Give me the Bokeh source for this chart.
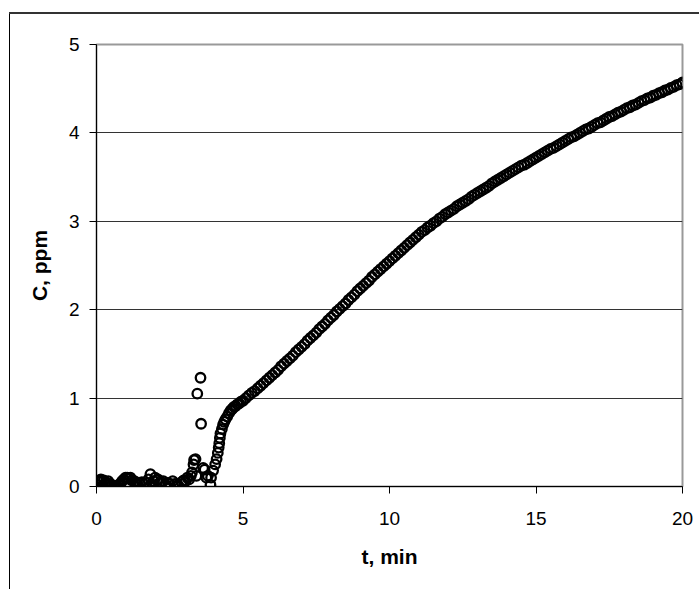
from bokeh.plotting import figure
from bokeh.models import Range1d, FixedTicker
from bokeh.embed import file_html
from bokeh.resources import INLINE

# time (min) and concentration (ppm)
t_early = [0.05, 0.10, 0.15, 0.19, 0.25, 0.31, 0.40, 0.48, 0.53, 0.59, 0.65, 0.70, 0.76,
           0.82, 0.87, 0.93, 0.99, 1.05, 1.10, 1.16, 1.20, 1.30, 1.35, 1.40, 1.47, 1.55,
           1.62, 1.70, 1.77, 1.84, 1.90, 1.95, 2.00, 2.06, 2.10, 2.15, 2.22, 2.28, 2.36,
           2.44, 2.50, 2.60, 2.67, 2.72, 2.80, 2.90, 2.97, 3.04, 3.10, 3.16, 3.22, 3.26,
           3.31, 3.33, 3.38, 3.41, 3.44, 3.55, 3.57, 3.64, 3.69, 3.75, 3.80, 3.89, 3.91,
           3.98, 4.05, 4.10, 4.14, 4.17, 4.19, 4.21, 4.23, 4.28, 4.32, 4.36, 4.40, 4.46,
           4.52, 4.58, 4.64, 4.69, 4.75, 4.81, 4.87, 4.93]
c_early = [0.06, 0.07, 0.08, 0.07, 0.07, 0.05, 0.06, 0.03, 0.01, 0.00, 0.00, 0.01, 0.02,
           0.03, 0.06, 0.08, 0.10, 0.10, 0.09, 0.10, 0.07, 0.06, 0.04, 0.02, 0.04, 0.05,
           0.03, 0.04, 0.08, 0.14, 0.02, 0.06, 0.10, 0.07, 0.08, 0.04, 0.05, 0.06, 0.02,
           0.04, 0.03, 0.06, 0.03, 0.01, 0.01, 0.05, 0.07, 0.06, 0.10, 0.08, 0.12, 0.16,
           0.25, 0.30, 0.31, 0.12, 1.05, 1.23, 0.71, 0.21, 0.19, 0.10, 0.12, 0.02, 0.10,
           0.18, 0.25, 0.31, 0.38, 0.44, 0.49, 0.55, 0.60, 0.65, 0.70, 0.73, 0.76, 0.79,
           0.83, 0.86, 0.88, 0.90, 0.91, 0.93, 0.94, 0.96]

t_main = [round(5.0 + 0.1 * i, 1) for i in range(151)]
c_main = [
    0.97, 1.00, 1.03, 1.06, 1.08, 1.11, 1.14, 1.17, 1.20, 1.23,
    1.26, 1.29, 1.32, 1.36, 1.39, 1.42, 1.45, 1.48, 1.52, 1.55,
    1.58, 1.61, 1.65, 1.68, 1.71, 1.74, 1.78, 1.81, 1.84, 1.88,
    1.91, 1.94, 1.98, 2.01, 2.04, 2.07, 2.11, 2.14, 2.17, 2.21,
    2.24, 2.27, 2.30, 2.33, 2.37, 2.40, 2.43, 2.46, 2.49, 2.52,
    2.55, 2.58, 2.61, 2.64, 2.67, 2.70, 2.73, 2.76, 2.79, 2.82,
    2.85, 2.88, 2.90, 2.93, 2.95, 2.98, 3.00, 3.03, 3.05, 3.08,
    3.10, 3.12, 3.14, 3.17, 3.19, 3.21, 3.23, 3.25, 3.28, 3.30,
    3.32, 3.34, 3.36, 3.38, 3.40, 3.43, 3.45, 3.47, 3.49, 3.51,
    3.53, 3.55, 3.57, 3.59, 3.61, 3.63, 3.64, 3.66, 3.68, 3.70,
    3.72, 3.74, 3.76, 3.78, 3.80, 3.82, 3.83, 3.85, 3.87, 3.89,
    3.91, 3.93, 3.95, 3.96, 3.98, 4.00, 4.02, 4.04, 4.05, 4.07,
    4.09, 4.11, 4.12, 4.14, 4.16, 4.18, 4.19, 4.21, 4.23, 4.24,
    4.26, 4.28, 4.29, 4.31, 4.32, 4.34, 4.36, 4.37, 4.39, 4.40,
    4.42, 4.43, 4.45, 4.46, 4.48, 4.49, 4.51, 4.52, 4.54, 4.55,
    4.57]

x_ticks = [0, 5, 10, 15, 20]
y_ticks = [0, 1, 2, 3, 4, 5]
grid_ticks = [1, 2, 3, 4]

t_all = t_early + t_main
c_all = c_early + c_main

FONT = "Liberation Sans"

# outer chart border: only its top and left edges fall inside the window
border_css = ("linear-gradient(#333333, #333333) 9px 12px / 700px 2px no-repeat, "
              "linear-gradient(#000000, #000000) 9px 12px / 1px 600px no-repeat, "
              "#ffffff")

p = figure(width=699, height=589, output_backend="svg", toolbar_location=None,
           x_range=Range1d(0, 20), y_range=Range1d(0, 5),
           min_border_left=96, min_border_right=17, min_border_top=44,
           min_border_bottom=103,
           styles={"background": border_css})

p.background_fill_color = "white"
p.border_fill_alpha = 0
p.outline_line_color = "#999999"
p.outline_line_width = 2

p.scatter(t_all, c_all, marker="circle", size=9.5, fill_color=None,
          line_color="black", line_width=2.3)

for ax in (p.xaxis[0], p.yaxis[0]):
    ax.axis_line_color = "black"
    ax.axis_line_width = 1
    ax.major_tick_line_color = "black"
    ax.major_tick_out = 7
    ax.major_tick_in = 0
    ax.minor_tick_line_color = None
    ax.major_label_text_font = FONT
    ax.major_label_text_font_size = "19px"
    ax.major_label_text_color = "black"
    ax.axis_label_text_font = FONT
    ax.axis_label_text_font_size = "21px"
    ax.axis_label_text_font_style = "bold"
    ax.axis_label_text_color = "black"

p.xaxis.ticker = FixedTicker(ticks=x_ticks)
p.yaxis.ticker = FixedTicker(ticks=y_ticks)
p.xaxis.axis_label = "t, min"
p.yaxis.axis_label = "C, ppm"
p.xaxis.major_label_standoff = 18
p.yaxis.major_label_standoff = 10
p.xaxis.axis_label_standoff = 17
p.yaxis.axis_label_standoff = 15

p.xgrid.visible = False
p.ygrid.ticker = FixedTicker(ticks=grid_ticks)
p.ygrid.grid_line_color = "#333333"
p.ygrid.grid_line_width = 1

open("out.html", "w").write(file_html(p, INLINE))
